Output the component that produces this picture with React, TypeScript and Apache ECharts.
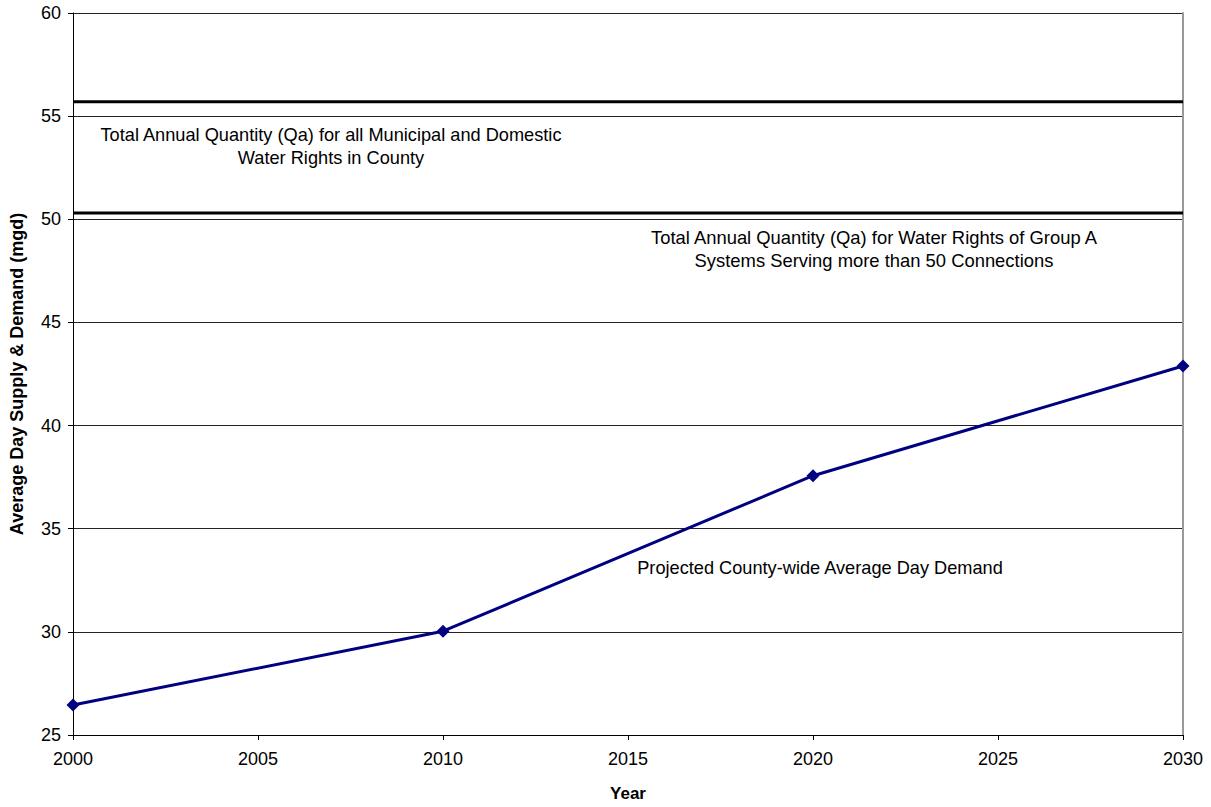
import React, { useEffect, useRef } from "react";
import * as echarts from "echarts";

const years = [2000, 2010, 2020, 2030];
const demand = [26.45, 30.03, 37.57, 42.89];
const municipalQa = 55.7;
const groupAQa = 50.3;
const xRange = [2000, 2030];

const FONT = "Liberation Sans, Arial, sans-serif";

export default function App() {
  const ref = useRef<HTMLDivElement>(null);
  useEffect(() => {
    const chart = echarts.init(ref.current!, null, { renderer: "svg" });
    const option: any = {
      animation: false,
      backgroundColor: "#fff",
      textStyle: { fontFamily: FONT },
      grid: { left: 70, right: 28, top: 13, bottom: 66 },
      xAxis: {
        type: "value",
        min: 2000,
        max: 2030,
        interval: 5,
        name: "Year",
        nameLocation: "middle",
        nameGap: 50,
        nameTextStyle: { fontFamily: FONT, fontWeight: "bold", fontSize: 17, color: "#000" },
        axisLine: { show: true, lineStyle: { color: "#000", width: 1 } },
        axisTick: { show: true, length: 5, lineStyle: { color: "#000" } },
        axisLabel: {
          fontFamily: FONT,
          fontSize: 18,
          color: "#000",
          margin: 15,
          formatter: (v: number) => String(v),
        },
        splitLine: { show: false },
      },
      yAxis: [
        {
          type: "value",
          min: 25,
          max: 60,
          interval: 5,
          name: "Average Day Supply & Demand (mgd)",
          nameLocation: "middle",
          nameGap: 47,
          nameTextStyle: { fontFamily: FONT, fontWeight: "bold", fontSize: 18, color: "#000" },
          axisLine: { show: true, lineStyle: { color: "#000", width: 1 } },
          axisTick: { show: true, length: 5, lineStyle: { color: "#000" } },
          axisLabel: { fontFamily: FONT, fontSize: 18, color: "#000", margin: 12 },
          splitLine: { show: true, lineStyle: { color: "#222", width: 1 } },
        },
        {
          type: "value",
          min: 25,
          max: 60,
          position: "right",
          axisLine: { show: true, lineStyle: { color: "#999", width: 2 } },
          axisTick: { show: false },
          axisLabel: { show: false },
          splitLine: { show: false },
        },
      ],
      series: [
        {
          type: "line",
          name: "Municipal and Domestic Qa",
          data: xRange.map((x) => [x, municipalQa]),
          symbol: "none",
          lineStyle: { color: "#000", width: 3 },
          z: 3,
        },
        {
          type: "line",
          name: "Group A Qa",
          data: xRange.map((x) => [x, groupAQa]),
          symbol: "none",
          lineStyle: { color: "#000", width: 3 },
          z: 3,
        },
        {
          type: "line",
          name: "Projected Demand",
          data: years.map((y, i) => [y, demand[i]]),
          symbol: "diamond",
          symbolSize: 13,
          itemStyle: { color: "#000080" },
          lineStyle: { color: "#000080", width: 3 },
          z: 4,
        },
      ],
      graphic: [
        {
          type: "text",
          x: 331,
          y: 146.5,
          style: {
            text: "Total Annual Quantity (Qa) for all Municipal and Domestic\nWater Rights in County",
            font: `18.2px ${FONT}`,
            fill: "#000",
            align: "center",
            verticalAlign: "middle",
            lineHeight: 23,
          },
        },
        {
          type: "text",
          x: 874,
          y: 249,
          style: {
            text: "Total Annual Quantity (Qa) for Water Rights of Group A\nSystems Serving more than 50 Connections",
            font: `18.4px ${FONT}`,
            fill: "#000",
            align: "center",
            verticalAlign: "middle",
            lineHeight: 23,
          },
        },
        {
          type: "text",
          x: 820,
          y: 568,
          style: {
            text: "Projected County-wide Average Day Demand",
            font: `18.2px ${FONT}`,
            fill: "#000",
            align: "center",
            verticalAlign: "middle",
          },
        },
      ],
    };
    chart.setOption(option);
    return () => chart.dispose();
  }, []);
  return <div ref={ref} style={{ width: 1211, height: 807, position: "absolute", left: 0, top: 0 }} />;
}
